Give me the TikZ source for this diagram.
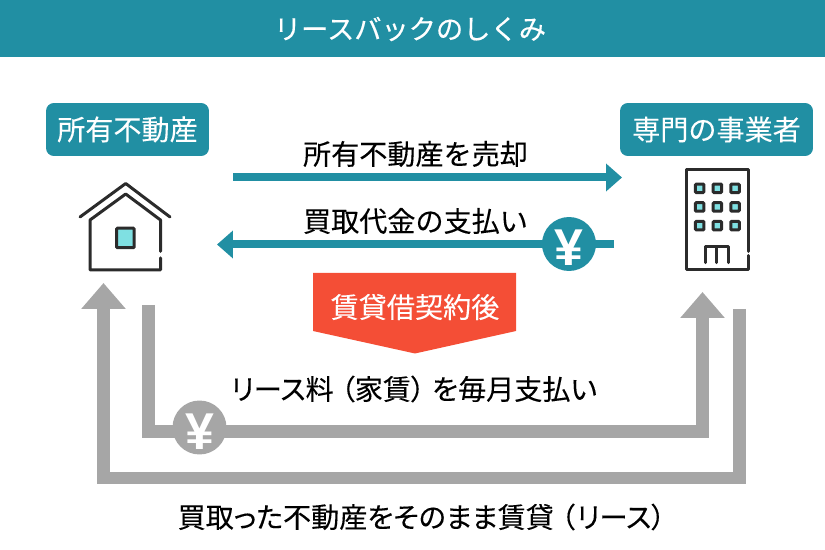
\documentclass[tikz,border=0pt]{standalone}
\usepackage{fontspec}
\usepackage{xcolor}
\setmainfont{Noto Sans CJK JP}[FakeBold=0.15]
\newfontfamily\yenfont{Liberation Sans}
\usetikzlibrary{positioning,calc,arrows.meta}
\definecolor{tealbar}{HTML}{218FA3}
\definecolor{greybar}{HTML}{A6A6A6}
\definecolor{redbox}{HTML}{F44E36}
\definecolor{iconline}{HTML}{2B2B2B}
\definecolor{iconglass}{HTML}{7FE0E2}
\newcommand{\gapped}[1]{\hspace{#1pt}}
\tikzset{
    labelbox/.style={fill=tealbar, text=white, rounded corners=4.5pt, inner sep=0pt, minimum height=1.06cm, font=\fontsize{16}{16}\selectfont},
    caption/.style={text=black, inner sep=0pt, font=\fontsize{16}{16}\selectfont},
    yenmark/.style={circle, inner sep=0pt, minimum size=1.08cm, text=white, font=\yenfont\fontsize{29.5}{30}\selectfont\bfseries},
    tealarrow/.style={tealbar, line width=0.16cm, -{Triangle[length=0.32cm,width=0.54cm]}},
    greyarrow/.style={greybar, line width=0.26cm, -{Triangle[length=0.52cm,width=0.86cm]}},
    iconstroke/.style={iconline, line width=0.06cm, line cap=round, line join=round},
    winsmall/.style={draw=iconline, fill=iconglass, line width=0.06cm, rounded corners=0.5pt, minimum size=0.17cm, inner sep=0pt},
}
\begin{document}
\begin{tikzpicture}[x=0.02cm, y=-0.02cm]
    \useasboundingbox (0,0) rectangle (825,550);

    % Header
    \fill[tealbar] (0,0) rectangle (825,57);
    \node[text=white, inner sep=0pt, font=\fontsize{15.5}{16}\selectfont\addfontfeature{FakeBold=0.4}] (title) at (410,29) {リースバックのしくみ};

    % Parties
    \node[labelbox, minimum width=3.26cm] (owner) at (127.5,129.5) {所有不動産};
    \node[labelbox, minimum width=3.86cm] (buyer) at (716.5,129.5) {専門の事業者};

    % House
    \draw[iconstroke] (80,217) -- (125.7,183.5) -- (170,217);
    \draw[iconstroke] (160.5,251.5) -- (160.5,220) -- (125.7,194) -- (90,220) -- (90,270) -- (160.5,270) -- (160.5,258);
    \node[winsmall, minimum width=0.35cm, minimum height=0.39cm] (housewin) at (125.3,238) {};

    % Building
    \draw[iconstroke] (748,251.5) -- (748,169.5) -- (686,169.5) -- (686,270) -- (748,270) -- (748,255.5);
    \foreach \y [count=\j] in {188.3,207,225.7}
        \foreach \x [count=\i] in {699.7,717.3,735}
            \node[winsmall] (win\j\i) at (\x,\y) {};
    \draw[iconstroke] (705.3,262.7) -- (705.3,246.7) -- (728,246.7) -- (728,262.7);
    \draw[iconstroke] (716.7,246.7) -- (716.7,262.7);

    % Sale and payment
    \coordinate (salefrom) at (233,177.5);
    \coordinate (saleto) at (622,177.5);
    \coordinate (payfrom) at (614,244.5);
    \coordinate (payto) at (217,244.5);
    \draw[tealarrow] (salefrom) -- (saleto);
    \draw[tealarrow] (payfrom) -- (payto);
    \node[caption] (sale) at (415.5,154) {所有不動産を売却};
    \node[caption] (pay) at (415.5,221) {買取代金の支払い};
    \node[yenmark, fill=tealbar, text height=24pt, text depth=0pt] (payyen) at (569,244) {¥};

    % After contract
    \fill[redbox] (313,273) -- (516,273) -- (516,331) -- (415,353.5) -- (313,331) -- cycle;
    \node[text=white, inner sep=0pt, font=\fontsize{16}{16}\selectfont] (contract) at (415,307) {賃貸借契約後};

    % Rent
    \coordinate (rentfrom) at (148.5,305);
    \coordinate (rentto) at (702.5,292);
    \draw[greyarrow] (rentfrom) |- (702.5,431.5) -- (rentto);
    \node[caption, font=\fontsize{16}{16}\selectfont\addfontfeature{RawFeature=+palt}] (rent) at (414,389) {リース料\gapped{4}（家賃）\gapped{4}を毎月支払い};
    \node[yenmark, fill=greybar, text height=25pt, text depth=-8pt] (rentyen) at (199.5,427.5) {¥};

    % Lease
    \coordinate (leasefrom) at (739,309);
    \coordinate (leaseto) at (103.5,283);
    \draw[greyarrow] (leasefrom) |- (103.5,478) -- (leaseto);
    \node[caption, font=\fontsize{16}{16}\selectfont\addfontfeature{RawFeature=+palt}] (lease) at (421.5,517) {買取った不動産をそのまま賃貸\gapped{4}（\gapped{1}リース）};
\end{tikzpicture}
\end{document}
